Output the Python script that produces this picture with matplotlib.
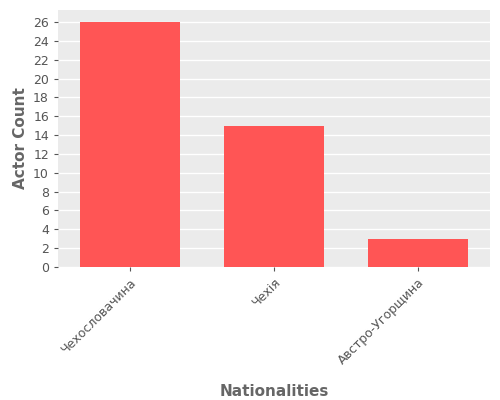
import matplotlib
matplotlib.use("Agg")
import matplotlib.pyplot as plt

nationalities = ["Чехословачина", "Чехія", "Австро-Угорщина"]
actor_counts = [26, 15, 3]
y_ticks = list(range(0, 27, 2))

fig = plt.figure(figsize=(5, 4), dpi=100)
ax = fig.add_axes([0.116, 0.333, 0.864, 0.642])
ax.set_facecolor("#EBEBEB")
ax.bar(range(len(nationalities)), actor_counts, width=0.7, color="#FF5555", zorder=3)
ax.set_xlim(-0.5, len(nationalities) - 0.5)
ax.set_ylim(0, 27.3)
ax.set_yticks(y_ticks)
ax.set_xticks(range(len(nationalities)))
ax.set_xticklabels(nationalities, rotation=45, ha="right", rotation_mode="anchor")
ax.grid(axis="y", color="white", linewidth=1, zorder=0)
for s in ax.spines.values():
    s.set_visible(False)
ax.tick_params(colors="#555555", labelsize=9, length=3)
ax.tick_params(axis="x", colors="#555555")
ax.set_xlabel("Nationalities", fontsize=11, fontweight="bold", color="#666666", labelpad=12)
ax.set_ylabel("Actor Count", fontsize=11, fontweight="bold", color="#666666")

fig.savefig("out.png")
